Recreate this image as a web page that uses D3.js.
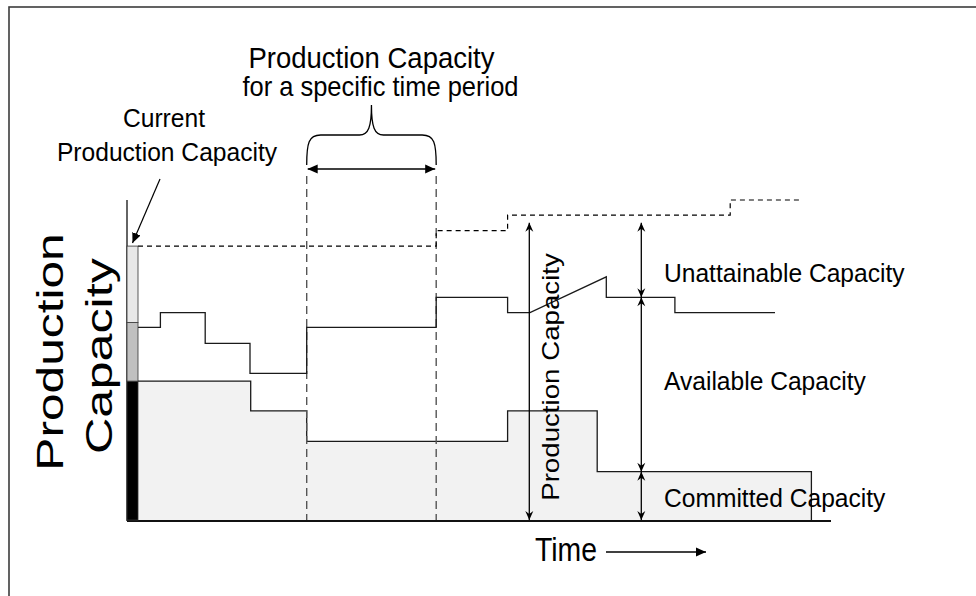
<!DOCTYPE html>
<html>
<head>
<meta charset="utf-8">
<script src="https://cdn.jsdelivr.net/npm/d3@7"></script>
<style>
  html, body { margin: 0; padding: 0; background: #fff; }
  svg { display: block; }
  text { font-family: "Liberation Sans", Arial, sans-serif; fill: #000; }
</style>
</head>
<body>
<svg id="chart" width="976" height="596"></svg>
<script>
// ---- data (time in weeks, capacity in % of maximum) ----
const periodBounds = [24.1, 42.6];            // the highlighted time period
const capacitySteps = [[0, 85.6], [42.6, 90.4], [52.8, 95.3], [84.6, 100], [94.6, 100]];
const attainableLine = [
  [0, 60.2], [3.2, 60.2], [3.2, 64.8], [9.6, 64.8], [9.6, 55.2], [16, 55.2], [16, 45.8],
  [24.1, 45.8], [24.1, 60.2], [42.6, 60.2], [42.6, 69.6], [52.8, 69.6], [52.8, 64.8],
  [56, 64.8], [66.9, 76.0], [66.9, 69.6], [76.7, 69.6], [76.7, 64.8], [91, 64.8]
];
const committedSteps = [[0, 43.4], [16.1, 34.1], [24.1, 24.6], [52.8, 34.1], [65.6, 15.1], [96.2, 15.1], [96.2, 0]];
const currentBar = [
  { from: 0, to: 43.4, fill: "#000000" },
  { from: 43.4, to: 61.7, fill: "#c0c0c0" },
  { from: 61.7, to: 85.6, fill: "#e8e8e8" }
];
const totalArrow = { t: 55.9, from: 92.9, to: 0 };
const breakdownArrows = [
  { t: 71.9, from: 92.9, to: 69.6 },
  { t: 71.9, from: 69.6, to: 15.1 },
  { t: 71.9, from: 15.1, to: 0 }
];
const regionLabels = ["Unattainable Capacity", "Available Capacity", "Committed Capacity"];
const regionLabelValues = [74.5, 40.5, 4];

const svg = d3.select("#chart");
const x = d3.scaleLinear().domain([0, 100]).range([138, 838]);
const y = d3.scaleLinear().domain([0, 100]).range([520, 200]);

// ---- arrow heads ----
const defs = svg.append("defs");
function marker(id, d, size) {
  defs.append("marker")
    .attr("id", id)
    .attr("viewBox", `${-size} ${-size / 2} ${size} ${size}`)
    .attr("refX", 0).attr("refY", 0)
    .attr("markerUnits", "userSpaceOnUse")
    .attr("markerWidth", size).attr("markerHeight", size)
    .attr("orient", "auto-start-reverse")
    .append("path").attr("d", d).attr("fill", "#000");
}
marker("stealth", "M0,0 L-9,-4 L-6,0 L-9,4 Z", 10);
marker("tri", "M0,0 L-10,-4.5 L-10,4.5 Z", 10);

// ---- outer frame ----
svg.append("rect")
  .attr("x", 9).attr("y", 7).attr("width", 1000).attr("height", 1000)
  .attr("fill", "none").attr("stroke", "#3c3c3c").attr("stroke-width", 1.6);

// ---- committed capacity (filled steps) ----
const area = d3.area()
  .x(d => x(d[0])).y0(y(0)).y1(d => y(d[1]))
  .curve(d3.curveStepAfter);
svg.append("path").datum(committedSteps)
  .attr("d", area).attr("fill", "#f2f2f2");
const stepLine = d3.line().x(d => x(d[0])).y(d => y(d[1])).curve(d3.curveStepAfter);
svg.append("path").datum(committedSteps)
  .attr("d", stepLine).attr("fill", "none")
  .attr("stroke", "#1a1a1a").attr("stroke-width", 1.3);

// ---- period markers ----
svg.selectAll("line.period").data(periodBounds).join("line")
  .attr("class", "period")
  .attr("x1", d => x(d)).attr("x2", d => x(d))
  .attr("y1", 176).attr("y2", y(0))
  .attr("stroke", "#555").attr("stroke-width", 1.4)
  .attr("stroke-dasharray", "8,5");

// ---- attainable capacity ----
const polyLine = d3.line().x(d => x(d[0])).y(d => y(d[1]));
svg.append("path").datum(attainableLine)
  .attr("d", polyLine).attr("fill", "none")
  .attr("stroke", "#1a1a1a").attr("stroke-width", 1.3);

// ---- production capacity (dashed) ----
svg.append("path").datum(capacitySteps)
  .attr("d", stepLine).attr("fill", "none")
  .attr("stroke", "#000").attr("stroke-width", 1.2)
  .attr("stroke-dasharray", "5,4");

// ---- axes ----
svg.append("line")
  .attr("x1", 127).attr("x2", 127).attr("y1", y(100)).attr("y2", y(0) + 1)
  .attr("stroke", "#111").attr("stroke-width", 1.3);
svg.append("line")
  .attr("x1", 127).attr("x2", x(99)).attr("y1", y(0) + 1).attr("y2", y(0) + 1)
  .attr("stroke", "#111").attr("stroke-width", 2);

// ---- current capacity bar ----
svg.selectAll("rect.current").data(currentBar).join("rect")
  .attr("class", "current")
  .attr("x", 127).attr("width", x(0) - 127)
  .attr("y", d => y(d.to)).attr("height", d => y(d.from) - y(d.to))
  .attr("fill", d => d.fill).attr("stroke", "#333").attr("stroke-width", 0.8);

// ---- vertical measurement arrows ----
function vArrow(a) {
  svg.append("line")
    .attr("x1", x(a.t)).attr("x2", x(a.t))
    .attr("y1", y(a.from)).attr("y2", y(a.to))
    .attr("stroke", "#000").attr("stroke-width", 1.3)
    .attr("marker-start", "url(#stealth)").attr("marker-end", "url(#stealth)");
}
vArrow(totalArrow);
breakdownArrows.forEach(vArrow);

// ---- period span arrow and brace ----
const bx0 = x(periodBounds[0]), bx1 = x(periodBounds[1]), bm = (bx0 + bx1) / 2;
svg.append("line")
  .attr("x1", bx0 + 1).attr("x2", bx1 - 1).attr("y1", 169).attr("y2", 169)
  .attr("stroke", "#000").attr("stroke-width", 1.6)
  .attr("marker-start", "url(#tri)").attr("marker-end", "url(#tri)");
const braceTop = 135, braceTip = 105, braceEnd = 165;
svg.append("path")
  .attr("d", `M${bx0},${braceEnd} C${bx0},${braceTop + 8} ${bx0 + 2},${braceTop} ${bx0 + 14},${braceTop}
              L${bm - 12},${braceTop} C${bm - 3},${braceTop} ${bm},${braceTop - 8} ${bm},${braceTip}
              C${bm},${braceTop - 8} ${bm + 3},${braceTop} ${bm + 12},${braceTop}
              L${bx1 - 14},${braceTop} C${bx1 - 2},${braceTop} ${bx1},${braceTop + 8} ${bx1},${braceEnd}`)
  .attr("fill", "none").attr("stroke", "#000").attr("stroke-width", 1.3);

// ---- pointer to current capacity ----
svg.append("line")
  .attr("x1", 160).attr("y1", 179).attr("x2", 132.5).attr("y2", 243)
  .attr("stroke", "#000").attr("stroke-width", 1.2)
  .attr("marker-end", "url(#tri)");

// ---- time arrow ----
svg.append("line")
  .attr("x1", 606).attr("y1", 552).attr("x2", 706).attr("y2", 552)
  .attr("stroke", "#000").attr("stroke-width", 1.3)
  .attr("marker-end", "url(#tri)");

// ---- text ----
function label(txt, px, py, size, opts = {}) {
  const sx = opts.sx || 1, sy = opts.sy || 1, rot = opts.rot || 0;
  svg.append("text")
    .attr("transform", `translate(${px},${py}) rotate(${rot}) scale(${sx},${sy})`)
    .attr("text-anchor", opts.anchor || "middle")
    .attr("font-size", size)
    .text(txt);
}
label("Production Capacity", bm, 68, 27.5, { sy: 1.06 });
label("for a specific time period", bm + 9, 96, 25.5, { sy: 1.08 });
label("Current", 164, 127, 24.6, { sy: 1.05 });
label("Production Capacity", 167, 161, 24.6, { sy: 1.05 });
label("Production", 63, 352, 36, { rot: -90, sx: 1.38 });
label("Capacity", 112, 356, 36, { rot: -90, sx: 1.4 });
label("Production Capacity", 559, 377, 24.5, { rot: -90, sx: 1.13 });
regionLabels.forEach((t, i) => label(t, 664, y(regionLabelValues[i]), 24.6, { anchor: "start", sy: 1.08 }));
label("Time", 566, 561, 28.4, { sy: 1.2 });
</script>
</body>
</html>
